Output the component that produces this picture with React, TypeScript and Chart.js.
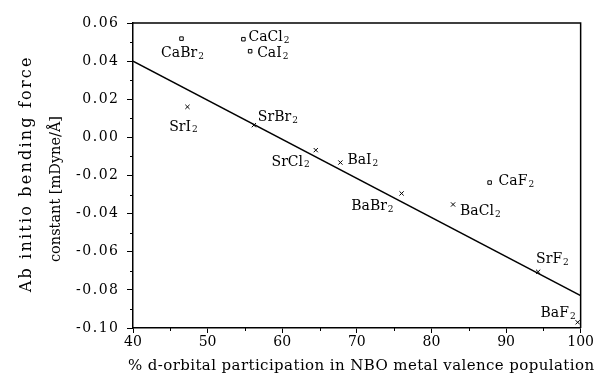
import React, { useEffect, useRef } from "react";
import { Chart, registerables } from "chart.js";
Chart.register(...registerables);

const FONT = '"DejaVu Serif", serif';

// Ca compounds (open squares)
const caNames = ["CaBr2", "CaCl2", "CaI2", "CaF2"];
const caX = [46.5, 54.8, 55.7, 87.8];
const caY = [0.0518, 0.0515, 0.0452, -0.0237];

// Sr / Ba compounds (crosses)
const srBaNames = ["SrI2", "SrBr2", "SrCl2", "BaI2", "BaBr2", "BaCl2", "SrF2", "BaF2"];
const srBaX = [47.3, 56.2, 64.5, 67.8, 76.0, 82.9, 94.3, 99.6];
const srBaY = [0.016, 0.0064, -0.0067, -0.0132, -0.0294, -0.0352, -0.0705, -0.097];

// fitted line
const fitX = [40, 100];
const fitY = [0.04, -0.083];

const xTickValues = [40, 50, 60, 70, 80, 90, 100];
const yTickValues = [0.06, 0.04, 0.02, 0.0, -0.02, -0.04, -0.06, -0.08, -0.1];
const yTickLabels = ["0.06", "0.04", "0.02", "0.00", "-0.02", "-0.04", "-0.06", "-0.08", "-0.10"];
const xMinorTicks = [45, 55, 65, 75, 85, 95];
const yMinorTicks = [0.05, 0.03, 0.01, -0.01, -0.03, -0.05, -0.07, -0.09];

const xTitle = "% d-orbital participation in NBO metal valence population";
const yTitle = ["Ab initio bending force", "constant [mDyne/Å]"];

// label placement relative to marker: [align, dx, dy] in px
const caLabelPos: [string, number, number][] = [
  ["center", 1, 15],
  ["left", 5, -2],
  ["left", 7, 2],
  ["left", 9, -1],
];
const srBaLabelPos: [string, number, number][] = [
  ["center", -4, 20],
  ["left", 4, -8],
  ["right", -6, 12],
  ["left", 7, -2],
  ["right", -8, 13],
  ["left", 7, 7],
  ["left", -2, -12],
  ["right", -2, -9],
];

function drawFormula(ctx: CanvasRenderingContext2D, name: string, x: number, y: number, align: string) {
  const base = name.slice(0, -1);
  const sub = name.slice(-1);
  ctx.font = `14px ${FONT}`;
  const wb = ctx.measureText(base).width;
  ctx.font = `9px ${FONT}`;
  const ws = ctx.measureText(sub).width;
  const total = wb + ws + 1;
  let left = x;
  if (align === "center") left = x - total / 2;
  else if (align === "right") left = x - total;
  ctx.textAlign = "left";
  ctx.textBaseline = "middle";
  ctx.font = `14px ${FONT}`;
  ctx.fillText(base, left, y);
  ctx.font = `9px ${FONT}`;
  ctx.fillText(sub, left + wb + 1, y + 3);
}

function spacedWidth(ctx: CanvasRenderingContext2D, text: string, spacing: number) {
  (ctx as any).letterSpacing = "0px";
  const w = ctx.measureText(text).width;
  return w + spacing * (text.length - 1);
}

function drawSpaced(ctx: CanvasRenderingContext2D, text: string, cx: number, cy: number, spacing: number, align: string) {
  const w = spacedWidth(ctx, text, spacing);
  let left = cx;
  if (align === "center") left = cx - w / 2;
  else if (align === "right") left = cx - w;
  (ctx as any).letterSpacing = `${spacing}px`;
  ctx.textAlign = "left";
  ctx.textBaseline = "middle";
  ctx.fillText(text, left, cy);
  (ctx as any).letterSpacing = "0px";
}

const decor = {
  id: "decor",
  afterDraw(chart: any) {
    const { ctx, chartArea: a, scales } = chart;
    const xs = scales.x;
    const ys = scales.y;
    ctx.save();
    ctx.strokeStyle = "#000";
    ctx.fillStyle = "#000";
    // top and right frame
    ctx.lineWidth = 1.5;
    ctx.beginPath();
    ctx.moveTo(a.left, a.top);
    ctx.lineTo(a.right, a.top);
    ctx.lineTo(a.right, a.bottom);
    ctx.stroke();
    // minor ticks
    ctx.lineWidth = 1;
    ctx.beginPath();
    for (const v of xMinorTicks) {
      const px = Math.round(xs.getPixelForValue(v)) + 0.5;
      ctx.moveTo(px, a.bottom);
      ctx.lineTo(px, a.bottom + 3);
    }
    for (const v of yMinorTicks) {
      const py = Math.round(ys.getPixelForValue(v)) + 0.5;
      ctx.moveTo(a.left, py);
      ctx.lineTo(a.left - 3, py);
    }
    ctx.stroke();
    // y tick labels (letter-spaced)
    ctx.font = `14px ${FONT}`;
    yTickValues.forEach((v, i) => {
      drawSpaced(ctx, yTickLabels[i], a.left - 15, ys.getPixelForValue(v), 1.5, "right");
    });
    // point labels
    caNames.forEach((n, i) => {
      const [al, dx, dy] = caLabelPos[i];
      drawFormula(ctx, n, xs.getPixelForValue(caX[i]) + dx, ys.getPixelForValue(caY[i]) + dy, al);
    });
    srBaNames.forEach((n, i) => {
      const [al, dx, dy] = srBaLabelPos[i];
      drawFormula(ctx, n, xs.getPixelForValue(srBaX[i]) + dx, ys.getPixelForValue(srBaY[i]) + dy, al);
    });
    // axis titles
    ctx.font = `15px ${FONT}`;
    drawSpaced(ctx, xTitle, 361, 366, 0.4, "center");
    ctx.translate(27, 175);
    ctx.rotate(-Math.PI / 2);
    ctx.font = `16px ${FONT}`;
    drawSpaced(ctx, yTitle[0], 0, 0, 2.2, "center");
    ctx.font = `14.5px ${FONT}`;
    drawSpaced(ctx, yTitle[1], -14, 29, 0, "center");
    ctx.restore();
  },
};

export default function App() {
  const ref = useRef<HTMLCanvasElement>(null);
  useEffect(() => {
    if (!ref.current) return;
    const chart = new Chart(ref.current, {
      type: "scatter",
      data: {
        datasets: [
          {
            type: "line",
            data: fitX.map((x, i) => ({ x, y: fitY[i] })),
            borderColor: "#000",
            borderWidth: 1.6,
            pointRadius: 0,
            fill: false,
          } as any,
          {
            data: caX.map((x, i) => ({ x, y: caY[i] })),
            pointStyle: "rect",
            pointRadius: 2.5,
            borderColor: "#000",
            backgroundColor: "#fff",
            borderWidth: 1,
          },
          {
            data: srBaX.map((x, i) => ({ x, y: srBaY[i] })),
            pointStyle: "crossRot",
            pointRadius: 3,
            borderColor: "#000",
            backgroundColor: "#000",
            borderWidth: 1,
          },
        ],
      },
      options: {
        animation: false,
        responsive: true,
        maintainAspectRatio: false,
        layout: { padding: { left: 0, top: 23, right: 14, bottom: 0 } },
        plugins: { legend: { display: false }, tooltip: { enabled: false } },
        scales: {
          x: {
            type: "linear",
            min: 40,
            max: 100,
            afterBuildTicks: (s: any) => {
              s.ticks = xTickValues.map((v) => ({ value: v }));
            },
            afterFit: (s: any) => {
              s.height = 51;
            },
            ticks: {
              color: "#000",
              font: { family: FONT, size: 14 },
              padding: 1,
              maxRotation: 0,
              callback: (v: any) => String(v),
            },
            grid: { drawOnChartArea: false, tickLength: 5, color: "#000", lineWidth: 1 },
            border: { color: "#000", width: 1.5 },
          },
          y: {
            type: "linear",
            min: -0.1,
            max: 0.06,
            afterBuildTicks: (s: any) => {
              s.ticks = yTickValues.map((v) => ({ value: v }));
            },
            afterFit: (s: any) => {
              s.width = 133;
            },
            ticks: { display: false },
            grid: { drawOnChartArea: false, drawTicks: true, tickLength: 6, color: "#000", lineWidth: 1 },
            border: { color: "#000", width: 1.5 },
          },
        },
      },
      plugins: [decor],
    });
    return () => chart.destroy();
  }, []);
  return (
    <div style={{ position: "fixed", left: 0, top: 0, width: 595, height: 379, background: "#fff" }}>
      <canvas ref={ref} />
    </div>
  );
}
